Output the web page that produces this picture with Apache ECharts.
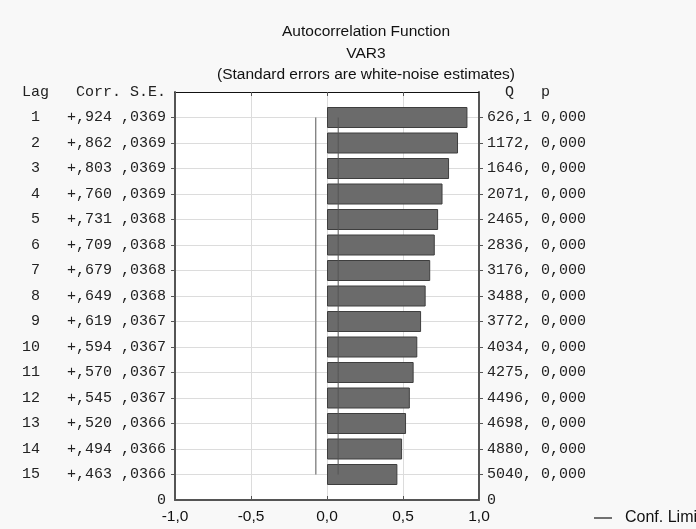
<!DOCTYPE html>
<html>
<head>
<meta charset="utf-8">
<title>Autocorrelation Function</title>
<script src="https://cdn.jsdelivr.net/npm/echarts@6/dist/echarts.min.js"></script>
<style>
  html, body { margin: 0; padding: 0; background: #f8f8f8; }
  #chart { width: 696px; height: 529px; }
</style>
</head>
<body>
<div id="chart"></div>
<script>
// Autocorrelation table for VAR3
const lags = [1, 2, 3, 4, 5, 6, 7, 8, 9, 10, 11, 12, 13, 14, 15];
const corr = [0.924, 0.862, 0.803, 0.760, 0.731, 0.709, 0.679, 0.649, 0.619, 0.594, 0.570, 0.545, 0.520, 0.494, 0.463];
const stdErr = [0.0369, 0.0369, 0.0369, 0.0369, 0.0368, 0.0368, 0.0368, 0.0368, 0.0367, 0.0367, 0.0367, 0.0367, 0.0366, 0.0366, 0.0366];
const qStat = [626.1, 1172, 1646, 2071, 2465, 2836, 3176, 3488, 3772, 4034, 4275, 4496, 4698, 4880, 5040];
const pValue = [0, 0, 0, 0, 0, 0, 0, 0, 0, 0, 0, 0, 0, 0, 0];
const xTicks = [-1, -0.5, 0, 0.5, 1];

const leftHeader = 'Lag   Corr. S.E.';
const rightHeader = '  Q   p';
const baseLabel = '0';

// number formatting in the comma-decimal style
const fmtCorr = v => (v >= 0 ? '+' : '-') + Math.abs(v).toFixed(3).replace('0.', ',');
const fmtSE = v => v.toFixed(4).replace('0.', ',');
const fmtQ = v => v.toFixed(1).replace('.', ',').slice(0, 5);
const fmtP = v => v.toFixed(3).replace('.', ',');
const fmtX = v => v.toFixed(1).replace('.', ',');

// category slots: header row, one per lag, baseline row
const slots = ['hdr'].concat(lags.map(String), ['base']);
const leftLabels = [leftHeader].concat(
  lags.map((l, i) => String(l).padStart(2, ' ') + '   ' + fmtCorr(corr[i]) + ' ' + fmtSE(stdErr[i])),
  [baseLabel]);
const rightLabels = [rightHeader].concat(
  lags.map((l, i) => fmtQ(qStat[i]) + ' ' + fmtP(pValue[i])),
  [baseLabel]);

const barData = [null].concat(corr, [null]);
const upperLimit = lags.map((l, i) => [2 * stdErr[i], i + 1]);
const lowerLimit = lags.map((l, i) => [-2 * stdErr[i], i + 1]);

const mono = 'Liberation Mono';
const sans = 'Liberation Sans';
const gridColor = '#dcdcdc';
const frameColor = '#555';

const chart = echarts.init(document.getElementById('chart'), null, { renderer: 'canvas' });

const titleStyle = { fontSize: 15.5, fontWeight: 'normal', fontFamily: sans, color: '#111' };

chart.setOption({
  backgroundColor: '#f8f8f8',
  animation: false,
  title: [
    { text: 'Autocorrelation Function', left: 361, top: 19, textAlign: 'center', textStyle: titleStyle },
    { text: 'VAR3', left: 361, top: 41, textAlign: 'center', textStyle: titleStyle },
    { text: '(Standard errors are white-noise estimates)', left: 361, top: 62, textAlign: 'center', textStyle: titleStyle }
  ],
  legend: {
    left: 589,
    top: 505,
    itemWidth: 18,
    itemHeight: 10,
    data: [{ name: 'Conf. Limit', icon: 'path://M0,0 L18,0 L18,1.5 L0,1.5 Z', itemStyle: { color: '#444' } }],
    textStyle: { fontFamily: sans, fontSize: 16, color: '#111', padding: [0, 0, 0, 8] }
  },
  grid: {
    left: 175, right: 217, top: 92, bottom: 29,
    show: true, backgroundColor: '#ffffff', borderWidth: 0
  },
  xAxis: [
    {
      type: 'value', position: 'bottom', min: -1, max: 1, interval: 0.5,
      axisLine: { show: true, onZero: false, lineStyle: { color: frameColor, width: 2 } },
      axisTick: { show: true, inside: true, length: 4, lineStyle: { color: frameColor } },
      axisLabel: { margin: 9, formatter: fmtX, fontFamily: sans, fontSize: 15.5, color: '#111' },
      splitLine: { show: true, lineStyle: { color: gridColor, width: 1 } }
    },
    {
      type: 'value', position: 'top', min: -1, max: 1, interval: 0.5,
      axisLine: { show: true, onZero: false, lineStyle: { color: '#111', width: 1 } },
      axisTick: { show: true, inside: true, length: 4, lineStyle: { color: frameColor } },
      axisLabel: { show: false },
      splitLine: { show: false }
    }
  ],
  yAxis: [
    {
      type: 'category', position: 'left', data: slots, inverse: true, boundaryGap: false,
      axisLine: { show: true, onZero: false, lineStyle: { color: frameColor, width: 2 } },
      axisTick: { show: true, inside: false, length: 4, interval: (i) => i > 0 && i < slots.length - 1, lineStyle: { color: frameColor } },
      axisLabel: { interval: 0, margin: 9, formatter: (v, i) => leftLabels[i], fontFamily: mono, fontSize: 15, color: '#222' },
      splitLine: { show: true, interval: 0, lineStyle: { color: gridColor, width: 1 } }
    },
    {
      type: 'category', position: 'right', data: slots, inverse: true, boundaryGap: false,
      axisLine: { show: true, onZero: false, lineStyle: { color: frameColor, width: 2 } },
      axisTick: { show: true, inside: false, length: 4, interval: (i) => i > 0 && i < slots.length - 1, lineStyle: { color: frameColor } },
      axisLabel: { interval: 0, margin: 8, align: 'left', formatter: (v, i) => rightLabels[i], fontFamily: mono, fontSize: 15, color: '#222' },
      splitLine: { show: false }
    }
  ],
  series: [
    {
      name: 'Corr.', type: 'bar', xAxisIndex: 0, yAxisIndex: 0,
      data: barData, barWidth: 21,
      itemStyle: { color: '#6b6b6b', borderColor: '#3e3e3e', borderWidth: 1 }
    },
    {
      name: 'Conf. Limit', type: 'line', xAxisIndex: 0, yAxisIndex: 0,
      data: lowerLimit, symbol: 'none', lineStyle: { color: '#555', width: 1 }, itemStyle: { color: '#555' }
    },
    {
      name: 'Conf. Limit', type: 'line', xAxisIndex: 0, yAxisIndex: 0,
      data: upperLimit, symbol: 'none', lineStyle: { color: '#555', width: 1 }, itemStyle: { color: '#555' }
    }
  ]
});
</script>
</body>
</html>
